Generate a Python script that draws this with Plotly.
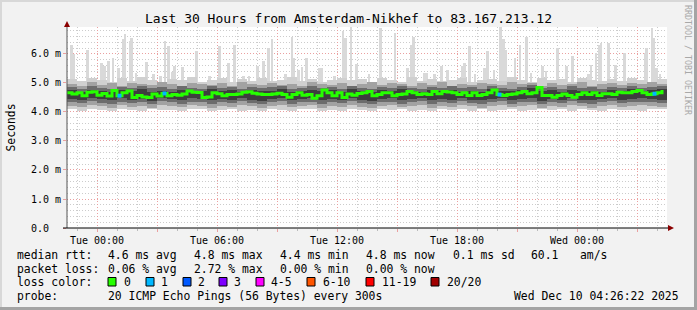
import pandas as pd
import plotly.graph_objects as go

# ---------------- data ----------------
START = pd.Timestamp("2025-12-08 22:30:00")
END = pd.Timestamp("2025-12-10 04:30:00")

# median rtt (ms), one value per 15 minutes
median_ms = [
    4.66, 4.62, 4.66, 4.56, 4.68, 4.70, 4.58, 4.64, 4.55, 4.74, 4.56, 4.66,
    4.72, 4.50, 4.57, 4.52, 4.50, 4.62, 4.55, 4.64, 4.56, 4.60, 4.58, 4.62,
    4.72, 4.68, 4.67, 4.50, 4.52, 4.66, 4.63, 4.56, 4.60, 4.60, 4.62, 4.68,
    4.70, 4.65, 4.62, 4.60, 4.60, 4.62, 4.65, 4.60, 4.51, 4.60, 4.66, 4.58,
    4.60, 4.47, 4.56, 4.76, 4.66, 4.56, 4.66, 4.50, 4.62, 4.58, 4.64, 4.66,
    4.71, 4.56, 4.60, 4.66, 4.66, 4.56, 4.60, 4.62, 4.71, 4.66, 4.60, 4.63,
    4.60, 4.71, 4.63, 4.71, 4.69, 4.66, 4.60, 4.66, 4.57, 4.66, 4.57, 4.60,
    4.66, 4.76, 4.60, 4.57, 4.60, 4.62, 4.66, 4.71, 4.63, 4.66, 4.84, 4.57,
    4.57, 4.51, 4.57, 4.62, 4.57, 4.51, 4.60, 4.66, 4.60, 4.66, 4.57, 4.63,
    4.63, 4.60, 4.68, 4.66, 4.66, 4.71, 4.74, 4.66, 4.60, 4.63, 4.66, 4.76,
]
loss_idx = [10, 19, 86, 117]
loss_cnt = [1, 1, 1, 1]

# tall single-ping peaks: hours after START, top value (ms)
spike_h = [0.23, 0.35, 1.02, 1.73, 1.87, 2.08, 2.30, 2.57, 2.82, 2.90, 3.15, 3.23,
           3.45, 3.97, 4.32, 4.68, 4.90, 5.07, 5.27, 5.37, 5.78, 6.48, 7.13, 7.62,
           8.08, 8.37, 8.82, 9.10, 9.53, 9.82, 10.07, 10.25, 10.92, 11.25, 11.35,
           11.58, 11.75, 11.97, 12.60, 12.73, 13.37, 13.80, 13.92, 14.20, 14.47,
           15.10, 15.68, 16.03, 16.40, 17.03, 17.20, 17.32, 17.85, 17.97, 18.37,
           18.73, 19.03, 19.58, 19.75, 19.87, 20.12, 20.40, 20.87, 21.02, 21.35,
           21.67, 21.82, 21.93, 22.40, 22.65, 22.97, 23.20, 23.78, 23.95, 24.53,
           24.97, 25.27, 26.07, 26.20, 26.45, 26.60, 26.70, 27.07, 27.43, 27.87,
           28.37, 28.90, 28.98, 29.25, 29.35, 29.48, 29.65]
spike_top = [6.32, 6.00, 6.15, 5.69, 5.57, 5.77, 5.86, 5.50, 6.50, 6.69, 6.46, 6.55,
             5.35, 5.72, 5.30, 5.23, 6.44, 6.26, 5.37, 5.57, 5.54, 6.11, 5.23, 6.29,
             5.69, 6.32, 5.23, 5.23, 5.57, 5.75, 6.20, 6.50, 5.30, 6.57, 5.86,
             5.46, 5.54, 5.86, 5.52, 5.50, 5.23, 6.78, 6.55, 6.92, 5.66,
             5.30, 6.90, 5.10, 6.72, 5.52, 6.32, 6.60, 5.35, 5.35, 5.30,
             5.57, 5.46, 5.10, 5.57, 5.69, 6.26, 5.30, 5.52, 6.09, 5.46,
             6.92, 6.50, 6.15, 5.86, 6.32, 6.60, 5.35, 5.57, 5.40, 6.20,
             5.57, 5.92, 5.30, 5.63, 6.03, 6.32, 6.38, 6.38, 5.63, 6.03,
             5.17, 6.03, 6.20, 6.90, 6.55, 5.50, 5.30]

# smoke bands, one value per 30 minutes
outer_hi = [5.14, 5.06, 5.18, 5.10, 5.04, 5.16, 5.08, 5.20, 5.12, 5.02,
            5.15, 5.09, 5.19, 5.05, 5.11, 5.17, 5.03, 5.13, 5.08, 5.16,
            5.06, 5.12, 5.20, 5.07, 5.14, 5.04, 5.10, 5.18, 5.09, 5.13,
            5.05, 5.16, 5.11, 5.03, 5.19, 5.08, 5.14, 5.06, 5.12, 5.17,
            5.04, 5.10, 5.15, 5.07, 5.20, 5.12, 5.05, 5.16, 5.09, 5.13,
            5.03, 5.18, 5.10, 5.06, 5.14, 5.08, 5.17, 5.11, 5.05, 5.15]
mid_hi = [4.98, 4.91, 5.02, 4.94, 4.99, 4.90, 5.00, 4.95, 4.92, 5.03,
          4.96, 4.89, 5.01, 4.97, 4.93, 4.99, 4.91, 5.04, 4.95, 4.92,
          5.00, 4.94, 4.98, 4.90, 5.02, 4.96, 4.93, 5.01, 4.89, 4.97,
          5.03, 4.92, 4.99, 4.95, 4.91, 5.00, 4.94, 5.02, 4.90, 4.98,
          4.93, 5.01, 4.96, 4.92, 5.04, 4.95, 4.99, 4.91, 5.00, 4.94,
          4.97, 5.02, 4.90, 4.96, 5.01, 4.93, 4.99, 4.95, 5.03, 4.97]
inner_hi = [4.86, 4.80, 4.88, 4.83, 4.79, 4.87, 4.82, 4.90, 4.81, 4.85,
            4.78, 4.88, 4.84, 4.80, 4.89, 4.83, 4.86, 4.79, 4.87, 4.82,
            4.85, 4.91, 4.80, 4.84, 4.88, 4.81, 4.86, 4.79, 4.89, 4.83,
            4.80, 4.87, 4.84, 4.90, 4.82, 4.78, 4.86, 4.83, 4.88, 4.81,
            4.85, 4.79, 4.89, 4.84, 4.80, 4.87, 4.92, 4.82, 4.86, 4.80,
            4.88, 4.83, 4.85, 4.79, 4.87, 4.82, 4.89, 4.84, 4.86, 4.90]
core_hi = [4.75, 4.70, 4.77, 4.72, 4.69, 4.76, 4.73, 4.78, 4.70, 4.74,
           4.68, 4.76, 4.73, 4.71, 4.79, 4.72, 4.75, 4.69, 4.77, 4.71,
           4.74, 4.80, 4.70, 4.73, 4.77, 4.71, 4.75, 4.69, 4.78, 4.72,
           4.70, 4.76, 4.73, 4.79, 4.71, 4.68, 4.75, 4.72, 4.77, 4.70,
           4.74, 4.69, 4.78, 4.73, 4.71, 4.76, 4.82, 4.72, 4.75, 4.70,
           4.77, 4.72, 4.74, 4.69, 4.76, 4.71, 4.78, 4.73, 4.75, 4.79]
core_lo = [4.46, 4.42, 4.49, 4.44, 4.40, 4.47, 4.43, 4.45, 4.39, 4.48,
           4.44, 4.41, 4.47, 4.45, 4.40, 4.46, 4.42, 4.49, 4.43, 4.39,
           4.45, 4.48, 4.41, 4.44, 4.47, 4.40, 4.46, 4.43, 4.48, 4.42,
           4.39, 4.45, 4.47, 4.41, 4.44, 4.48, 4.40, 4.46, 4.42, 4.49,
           4.43, 4.40, 4.46, 4.48, 4.41, 4.44, 4.47, 4.39, 4.45, 4.42,
           4.48, 4.43, 4.40, 4.46, 4.49, 4.42, 4.44, 4.47, 4.45, 4.43]
inner_lo = [4.35, 4.30, 4.38, 4.32, 4.28, 4.36, 4.31, 4.34, 4.27, 4.37,
            4.33, 4.29, 4.36, 4.34, 4.28, 4.35, 4.30, 4.38, 4.32, 4.27,
            4.34, 4.37, 4.29, 4.33, 4.36, 4.28, 4.35, 4.31, 4.37, 4.30,
            4.27, 4.34, 4.36, 4.29, 4.33, 4.37, 4.28, 4.35, 4.30, 4.38,
            4.32, 4.28, 4.35, 4.37, 4.29, 4.33, 4.36, 4.27, 4.34, 4.30,
            4.37, 4.32, 4.28, 4.35, 4.38, 4.30, 4.33, 4.36, 4.34, 4.31]
mid_lo = [4.22, 4.17, 4.25, 4.19, 4.15, 4.23, 4.18, 4.21, 4.14, 4.24,
          4.20, 4.16, 4.23, 4.21, 4.15, 4.22, 4.17, 4.25, 4.19, 4.14,
          4.21, 4.24, 4.16, 4.20, 4.23, 4.15, 4.22, 4.18, 4.24, 4.17,
          4.14, 4.21, 4.23, 4.16, 4.20, 4.24, 4.15, 4.22, 4.17, 4.25,
          4.19, 4.15, 4.22, 4.24, 4.16, 4.20, 4.23, 4.14, 4.21, 4.17,
          4.24, 4.19, 4.15, 4.22, 4.25, 4.17, 4.20, 4.23, 4.21, 4.18]
outer_lo = [4.09, 4.05, 4.12, 4.06, 4.03, 4.10, 4.07, 4.04, 4.11, 4.06,
            4.08, 4.03, 4.11, 4.09, 4.04, 4.07, 4.12, 4.05, 4.08, 4.03,
            4.10, 4.06, 4.04, 4.09, 4.12, 4.05, 4.08, 4.03, 4.11, 4.07,
            4.04, 4.10, 4.06, 4.12, 4.05, 4.08, 4.03, 4.11, 4.07, 4.09,
            4.05, 4.12, 4.04, 4.08, 4.10, 4.03, 4.07, 4.11, 4.06, 4.09,
            4.04, 4.10, 4.07, 4.03, 4.12, 4.06, 4.08, 4.05, 4.11, 4.09]

y_tickvals = [0, 1, 2, 3, 4, 5, 6]
y_ticktext = ["0.0\u00a0\u00a0", "1.0 m", "2.0 m", "3.0 m", "4.0 m", "5.0 m", "6.0 m"]
x_tickvals = ["2025-12-09 00:00", "2025-12-09 03:00", "2025-12-09 06:00", "2025-12-09 09:00",
              "2025-12-09 12:00", "2025-12-09 15:00", "2025-12-09 18:00", "2025-12-09 21:00",
              "2025-12-10 00:00", "2025-12-10 03:00"]
x_ticktext = ["Tue 00:00", "", "Tue 06:00", "", "Tue 12:00", "", "Tue 18:00", "", "Wed 00:00", ""]

loss_labels = ["0", "1", "2", "3", "4-5", "6-10", "11-19", "20/20"]
loss_colors = ["#26ff00", "#00b8ff", "#0059ff", "#7e00ff", "#ff00ff", "#ff5500", "#ff0000", "#a10000"]

title = "Last 30 Hours from Amsterdam-Nikhef to 83.167.213.12"
stats_rtt = ["median rtt:", "4.6 ms avg", "4.8 ms max", "4.4 ms min", "4.8 ms now", "0.1 ms sd", "60.1", "am/s"]
stats_loss = ["packet loss:", "0.06 % avg", "2.72 % max", "0.00 % min", "0.00 % now"]
probe_text = ["probe:", "20 ICMP Echo Pings (56 Bytes) every 300s", "Wed Dec 10 04:26:22 2025"]

# ---------------- layout geometry (pixels) ----------------
W, H = 697, 310
PL, PR, PT, PB = 67, 667, 27, 228


def px(x):
    return (x - PL) / (PR - PL)


def py(y):
    return (PB - y) / (PB - PT)


MONO = "DejaVu Sans Mono"

med_t = [START + pd.Timedelta(minutes=15 * i) for i in range(len(median_ms))]
band_t = [START + pd.Timedelta(minutes=30 * j + 15) for j in range(len(outer_hi))]
spike_t = [START + pd.to_timedelta(h, unit="h") for h in spike_h]

fig = go.Figure()

# peaks
SP_BASE = 4.8
fig.add_trace(go.Bar(x=spike_t, y=[v - SP_BASE for v in spike_top], base=SP_BASE,
                     width=8 * 60 * 1000, marker=dict(color="#d9d9d9", line=dict(width=0)),
                     hoverinfo="skip"))

bands = [(outer_lo, outer_hi, "#d0d0d0"), (mid_lo, mid_hi, "#a2a2a2"),
         (inner_lo, inner_hi, "#6c6c6c"), (core_lo, core_hi, "#3e3e3e")]
for lo, hi, col in bands:
    fig.add_trace(go.Bar(x=band_t, y=[h - l for l, h in zip(lo, hi)], base=lo,
                         width=30 * 60 * 1000, marker=dict(color=col, line=dict(width=0)),
                         hoverinfo="skip"))

fig.add_trace(go.Scatter(x=med_t, y=median_ms, mode="lines", line=dict(color=loss_colors[0], width=3, shape="hv"),
                         hoverinfo="skip"))
fig.add_trace(go.Scatter(x=[med_t[i] + pd.Timedelta(minutes=7.5) for i in loss_idx],
                         y=[median_ms[i] for i in loss_idx], mode="markers",
                         marker=dict(symbol="square", size=4, color=[loss_colors[c] for c in loss_cnt]),
                         hoverinfo="skip"))

shapes = []
# frame
shapes.append(dict(type="line", xref="paper", yref="paper", x0=px(1), x1=px(1), y0=py(0), y1=py(H),
                   line=dict(color="#d8d8d8", width=2)))
shapes.append(dict(type="line", xref="paper", yref="paper", x0=px(0), x1=px(W), y0=py(1), y1=py(1),
                   line=dict(color="#d8d8d8", width=2)))
shapes.append(dict(type="line", xref="paper", yref="paper", x0=px(695.5), x1=px(695.5), y0=py(0), y1=py(H),
                   line=dict(color="#a4a4a4", width=3)))
shapes.append(dict(type="line", xref="paper", yref="paper", x0=px(0), x1=px(W), y0=py(308.5), y1=py(308.5),
                   line=dict(color="#a4a4a4", width=3)))
# axes
shapes.append(dict(type="line", xref="paper", yref="paper", x0=px(67), x1=px(67), y0=py(228), y1=py(24),
                   line=dict(color="#555555", width=1)))
shapes.append(dict(type="line", xref="paper", yref="paper", x0=px(63), x1=px(670), y0=py(228), y1=py(228),
                   line=dict(color="#000000", width=1)))
shapes.append(dict(type="path", xref="paper", yref="paper",
                   path=f"M {px(64)},{py(27)} L {px(70)},{py(27)} L {px(67)},{py(21)} Z",
                   fillcolor="#8b0000", line=dict(width=0)))
shapes.append(dict(type="path", xref="paper", yref="paper",
                   path=f"M {px(668)},{py(225)} L {px(668)},{py(231)} L {px(674)},{py(228)} Z",
                   fillcolor="#8b0000", line=dict(width=0)))

annotations = []


def txt(x, y, s, size=11.4, color="#000000", anchor="left", angle=0):
    annotations.append(dict(x=px(x), y=py(y), xref="paper", yref="paper", text=s, showarrow=False,
                            xanchor=anchor, yanchor="middle", textangle=angle, borderpad=0,
                            font=dict(family=MONO, size=size, color=color)))


rtt_x = [16, 107, 192.5, 279, 365, 451.5, 530, 579]
for x, s in zip(rtt_x, stats_rtt):
    txt(x, 254.5, s)
loss_x = [16, 107, 192.5, 279, 365]
for x, s in zip(loss_x, stats_loss):
    txt(x, 268.5, s)
txt(16, 282, "loss color:")
box_x = [108, 146, 183, 219, 256, 307, 366, 431]
lab_x = [123, 160, 197, 233, 270, 322, 381, 446]
for bx, lx, lab, col in zip(box_x, lab_x, loss_labels, loss_colors):
    shapes.append(dict(type="rect", xref="paper", yref="paper", x0=px(bx), x1=px(bx + 8),
                       y0=py(277.5), y1=py(286), fillcolor=col, line=dict(color="#000000", width=1)))
    txt(lx, 282, lab)
txt(16, 296, probe_text[0])
txt(107, 296, probe_text[1])
txt(513, 296, probe_text[2])
txt(10, 127.5, "Seconds", size=11.4, anchor="center", angle=-90)
txt(688, 60, "RRDTOOL / TOBI OETIKER", size=8.3, color="#a8a8a8", anchor="center", angle=90)

fig.update_layout(
    width=W, height=H,
    margin=dict(l=PL, r=W - PR, t=PT, b=H - PB, pad=0),
    paper_bgcolor="#f2f2f2", plot_bgcolor="#ffffff",
    showlegend=False, barmode="overlay", bargap=0,
    font=dict(family=MONO, size=10, color="#000000"),
    title=dict(text=title, x=0.5, xanchor="center", y=(H - 18) / H, yanchor="middle", yref="container",
               font=dict(family=MONO, size=13, color="#000000")),
    shapes=shapes, annotations=annotations,
    xaxis=dict(type="date", range=[START, END], tickmode="array", tickvals=x_tickvals, ticktext=x_ticktext,
               showgrid=True, gridcolor="#eaa0a0", griddash="1px,2px", gridwidth=1,
               ticks="outside", ticklen=3, tickcolor="#eaa0a0", showline=False, zeroline=False,
               tickfont=dict(family=MONO, size=10),
               minor=dict(tickmode="linear", tick0="2025-12-08 23:00", dtick=3600000, showgrid=True,
                          gridcolor="#cccccc", griddash="1px,2px", ticks="outside", ticklen=2,
                          tickcolor="#bbbbbb"),
               fixedrange=True),
    yaxis=dict(range=[0, 6.93], tickmode="array", tickvals=y_tickvals, ticktext=y_ticktext,
               showgrid=True, gridcolor="#eaa0a0", griddash="1px,2px", gridwidth=1,
               ticks="outside", ticklen=3, tickcolor="#eaa0a0", showline=False, zeroline=False,
               tickfont=dict(family=MONO, size=10),
               minor=dict(tickmode="linear", tick0=0, dtick=0.2, showgrid=True, gridcolor="#cccccc",
                          griddash="1px,2px"),
               fixedrange=True),
)

fig.write_html("out.html")
